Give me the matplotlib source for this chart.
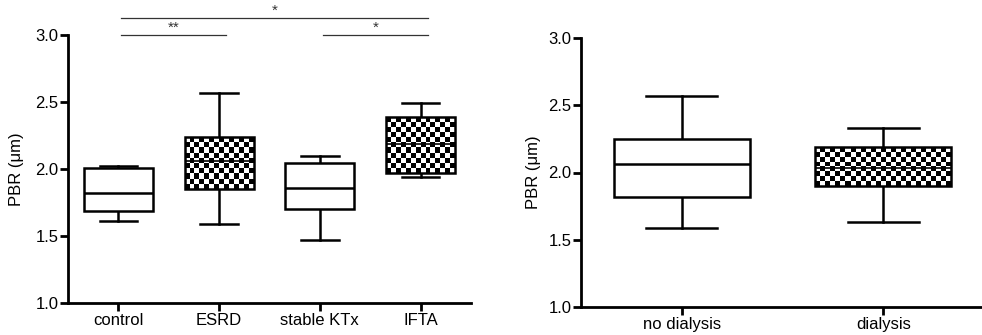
import matplotlib.pyplot as plt
import numpy as np
from matplotlib.ticker import FormatStrFormatter

plt.rcParams["font.family"] = ["Liberation Sans", "DejaVu Sans"]

# left panel: groups
left_groups = ["control", "ESRD", "stable KTx", "IFTA"]
left_whislo = [1.61, 1.59, 1.47, 1.94]
left_q1 = [1.69, 1.85, 1.70, 1.97]
left_med = [1.82, 2.06, 1.86, 2.19]
left_q3 = [2.01, 2.24, 2.045, 2.39]
left_whishi = [2.02, 2.57, 2.10, 2.49]
left_checkered = [False, True, False, True]

# significance brackets (group index a, group index b, label, height)
sig_a = [0, 0, 2]
sig_b = [3, 1, 3]
sig_label = ["*", "**", "*"]
sig_height = [3.13, 3.0, 3.0]

# right panel: dialysis
right_groups = ["no dialysis", "dialysis"]
right_whislo = [1.59, 1.63]
right_q1 = [1.82, 1.90]
right_med = [2.065, 2.03]
right_q3 = [2.25, 2.19]
right_whishi = [2.57, 2.33]
right_checkered = [False, True]

LW = 1.8


def make_stats(whislo, q1, med, q3, whishi):
    return [
        {"whislo": lo, "q1": a, "med": m, "q3": b, "whishi": hi}
        for lo, a, m, b, hi in zip(whislo, q1, med, q3, whishi)
    ]


def fill_checker(axis, patch, cell_px=5.0):
    # checkerboard mesh clipped to the box outline
    ext = patch.get_path().get_extents()
    p0 = axis.transData.transform((ext.x0, ext.y0))
    p1 = axis.transData.transform((ext.x1, ext.y1))
    nx = max(1, int(round(abs(p1[0] - p0[0]) / cell_px)))
    ny = max(1, int(round(abs(p1[1] - p0[1]) / cell_px)))
    board = np.add.outer(np.arange(ny), np.arange(nx)) % 2
    xs = np.linspace(ext.x0, ext.x1, nx + 1)
    ys = np.linspace(ext.y0, ext.y1, ny + 1)
    mesh = axis.pcolormesh(
        xs, ys, board, cmap="gray", vmin=0, vmax=1,
        antialiased=False, edgecolors="none", zorder=2.5,
    )
    mesh.set_clip_path(patch)


def draw_panel(axis, labels, stats, checkered, widths, capwidths, xlim):
    positions = np.arange(len(labels))
    axis.set_xlim(*xlim)
    axis.set_ylim(1.0, 3.0)
    artists = axis.bxp(
        stats,
        positions=positions,
        widths=widths,
        capwidths=capwidths,
        patch_artist=True,
        showfliers=False,
        boxprops={"facecolor": "white", "edgecolor": "black", "linewidth": LW},
        whiskerprops={"color": "black", "linewidth": LW},
        capprops={"color": "black", "linewidth": LW},
        medianprops={"color": "black", "linewidth": LW},
    )
    axis.set_xlim(*xlim)
    axis.set_ylim(1.0, 3.0)
    for box, median, checker in zip(artists["boxes"], artists["medians"], checkered):
        box.set_zorder(3)
        median.set_zorder(3.2)
        if checker:
            box.set_facecolor("none")
            median.set_linewidth(1.2)
            fill_checker(axis, box)
    axis.set_xlim(*xlim)
    axis.set_ylim(1.0, 3.0)
    axis.set_xticks(positions)
    axis.set_xticklabels(labels, fontsize=12)
    axis.set_yticks(np.arange(1.0, 3.01, 0.5))
    axis.yaxis.set_major_formatter(FormatStrFormatter("%.1f"))
    axis.tick_params(axis="both", labelsize=12, width=2, length=6, direction="out", pad=1)
    axis.spines["top"].set_visible(False)
    axis.spines["right"].set_visible(False)
    axis.spines["left"].set_linewidth(2)
    axis.spines["bottom"].set_linewidth(2)
    axis.set_ylabel("PBR (μm)", fontsize=12)


figure = plt.figure(figsize=(9.82, 3.35), dpi=100)
left_ax = figure.add_axes([68 / 982, 32 / 335, 403 / 982, 268 / 335])
right_ax = figure.add_axes([581 / 982, 28 / 335, 401 / 982, 269 / 335])

draw_panel(
    left_ax,
    left_groups,
    make_stats(left_whislo, left_q1, left_med, left_q3, left_whishi),
    left_checkered,
    widths=0.685,
    capwidths=0.37,
    xlim=(-0.5, 3.5),
)
left_ax.yaxis.set_label_coords(-0.11, 0.5)

draw_panel(
    right_ax,
    right_groups,
    make_stats(right_whislo, right_q1, right_med, right_q3, right_whishi),
    right_checkered,
    widths=0.675,
    capwidths=0.35,
    xlim=(-0.5, 1.49),
)
right_ax.yaxis.set_label_coords(-0.10, 0.5)

for a, b, label, height in zip(sig_a, sig_b, sig_label, sig_height):
    x0, x1 = a + 0.03, b + 0.07
    left_ax.plot([x0, x1], [height, height], color="#333333", linewidth=0.9, clip_on=False)
    left_ax.text((x0 + x1) / 2, height, label, ha="center", va="bottom", fontsize=11, color="#333333")

figure.savefig("out.png", dpi=100)
